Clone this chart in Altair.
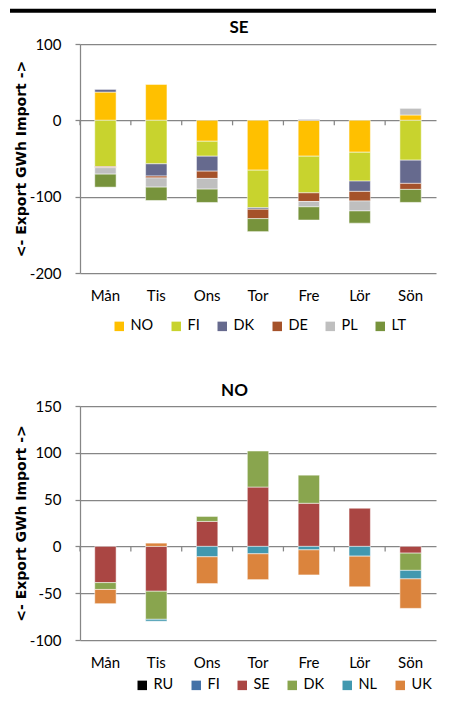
import altair as alt
import pandas as pd

FONT = "Lato"
TITLE_FONT = "DejaVu Sans"
GRID = "#868686"
PLOT_W = 356

days = ["Mån", "Tis", "Ons", "Tor", "Fre", "Lör", "Sön"]

# SE panel
se_series = ["NO", "FI", "DK", "DE", "PL", "LT"]
se_colors = ["#FFC000", "#C8D32E", "#666A8E", "#A5522A", "#BFBFBF", "#77933C"]
se_NO = [37, 47, -27.4, -65.3, -47, -41.8, 7]
se_FI = [-60.5, -57, -19.6, -49.2, -48, -37.8, -52.2]
se_DK = [3.5, -16, -19.6, -2, 1, -13.5, -30.4]
se_DE = [-1.5, -2.5, -9.5, -12.3, -11.3, -12.6, -7.9]
se_PL = [-8.5, -12, -14, 0, -7, -13, 8.7]
se_LT = [-17, -17.5, -17.5, -17, -17.3, -16, -17]

# NO panel
no_series = ["RU", "FI", "SE", "DK", "NL", "UK"]
no_colors = ["#000000", "#4572A7", "#AA4643", "#89A54E", "#4198AF", "#DB843D"]
no_RU = [0, 0, 0, 0, 0, 0, 0]
no_FI = [0, 0, 0, 0, 0, 0, 0]
no_SE = [-38.7, -47.9, 26.7, 63.4, 46.1, 40.8, -7.2]
no_DK = [-7.3, -30, 5.3, 38.5, 30, 0, -18.4]
no_NL = [0, -2, -11.1, -7.9, -3.7, -10.4, -9.1]
no_UK = [-15.2, 3.5, -28.6, -27.6, -26.8, -32.8, -31.5]

se_ticks = [-200, -150, -100, -50, 0, 50, 100]
no_ticks = [-100, -50, 0, 50, 100, 150]


def long_df(series, lists):
    rows = []
    for i, (s, vals) in enumerate(zip(series, lists)):
        for d, v in zip(days, vals):
            rows.append({"day": d, "series": s, "value": v, "idx": i})
    return pd.DataFrame(rows)


def x_enc(**kw):
    return alt.X(
        "day:N",
        sort=days,
        scale=alt.Scale(domain=days, paddingInner=0, paddingOuter=0),
        axis=alt.Axis(
            title=None, labelAngle=0, domain=False, ticks=False, grid=False,
            labelPadding=15, labelFontSize=15, labelFont=FONT, labelColor="black",
        ),
        **kw,
    )


def panel(df, series, colors, title, ticks, height, legend_x, legend_y,
          title_dx, title_dy=0, top_rule=False):
    yenc = alt.Y(
        "value:Q",
        stack="zero",
        scale=alt.Scale(domain=[ticks[0], ticks[-1]], nice=False),
        axis=alt.Axis(
            values=ticks, title="<- Export GWh Import ->",
            titleFont=TITLE_FONT, titleFontSize=14, titleFontWeight="bold", titleColor="black",
            titlePadding=1,
            labelFont=FONT, labelFontSize=15, labelColor="black", labelPadding=14,
            labelOverlap=False, labelExpr="'' + datum.value",
            tickSize=5, tickColor=GRID, tickWidth=1.25,
            domainColor=GRID, domainWidth=1.25,
            gridColor=GRID, gridWidth=1.25,
        ),
    )
    bars = (
        alt.Chart(df)
        .transform_filter("datum.value != 0")
        .mark_bar(width=alt.RelativeBandSize(0.42), stroke="white", strokeWidth=1, strokeOpacity=0.5)
        .encode(
            x=x_enc(),
            y=yenc,
            color=alt.Color(
                "series:N",
                scale=alt.Scale(domain=series, range=colors),
                legend=alt.Legend(
                    title=None, orient="none", direction="horizontal",
                    legendX=legend_x, legendY=legend_y,
                    symbolType="square", symbolSize=90, symbolStrokeWidth=0,
                    labelFont=FONT, labelFontSize=14.5, labelColor="black",
                    labelOffset=4, columnPadding=15, padding=0,
                ),
            ),
            order=alt.Order("idx:Q", sort="ascending"),
        )
    )
    tick_marks = (
        alt.Chart(pd.DataFrame({"day": days}))
        .mark_rule(color=GRID, strokeWidth=1.25, y2Offset=5)
        .encode(
            x=x_enc(bandPosition=0),
            y=alt.datum(0),
            y2=alt.datum(0),
        )
    )
    layers = [bars, tick_marks]
    if top_rule:
        layers.append(
            alt.Chart(pd.DataFrame({"a": [0]}))
            .mark_rule(color="black", strokeWidth=4)
            .encode(x=alt.value(-70), x2=alt.value(PLOT_W), y=alt.value(-33.3))
        )
    return alt.layer(*layers).properties(
        width=PLOT_W,
        height=height,
        title=alt.TitleParams(
            title, font=FONT, fontSize=17, fontWeight="bold", color="black",
            anchor="middle", dx=title_dx, dy=title_dy, offset=-1,
        ),
    )


se_df = long_df(se_series, [se_NO, se_FI, se_DK, se_DE, se_PL, se_LT])
no_df = long_df(no_series, [no_RU, no_FI, no_SE, no_DK, no_NL, no_UK])

se_chart = panel(se_df, se_series, se_colors, "SE", se_ticks, 229, 32, 275, -19,
                 title_dy=27, top_rule=True)
no_chart = panel(no_df, no_series, no_colors, "NO", no_ticks, 234, 55, 272, -23.5)

chart = (
    alt.vconcat(se_chart, no_chart, spacing=49)
    .resolve_scale(color="independent", y="independent", x="independent")
    .properties(padding=0, background="white")
    .configure_view(stroke=None)
)

chart.save("out.html", embed_options={"renderer": "svg", "actions": False})
